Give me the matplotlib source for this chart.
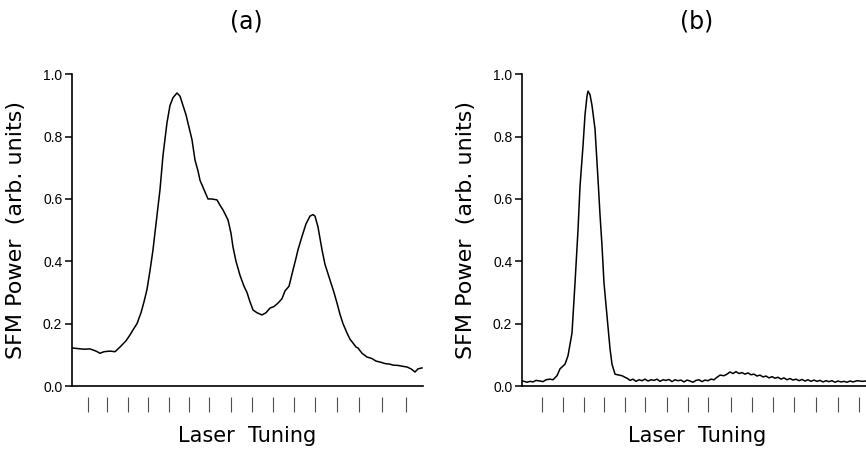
import matplotlib
matplotlib.use("Agg")
import matplotlib.pyplot as plt

# tuning axis in arbitrary units (0 .. 351), signal in arb. units
ta = [0, 6, 12, 18, 24, 28, 32, 38, 43, 48, 54, 58, 62, 65, 69, 72, 75, 78, 81, 84,
      88, 91, 95, 98, 101, 105, 108, 110, 114, 117, 120, 123, 126, 128, 132, 136, 140, 145, 148, 151,
      156, 159, 161, 164, 168, 172, 175, 178, 181, 185, 190, 194, 198, 202, 206, 210, 213, 217, 221, 224,
      226, 230, 234, 238, 241, 243, 246, 250, 253, 258, 262, 265, 268, 271, 275, 278, 281, 284, 286, 290,
      295, 300, 304, 308, 313, 318, 321, 326, 331, 335, 339, 343, 346, 350]
pa = [.122, .120, .118, .119, .112, .105, .110, .112, .110, .125, .145, .164, .185, .200, .235, .27, .31, .37, .437, .52,
      .63, .74, .845, .90, .925, .94, .93, .91, .87, .83, .79, .725, .69, .66, .63, .60, .60, .597, .58, .565,
      .533, .49, .446, .40, .355, .32, .30, .27, .244, .235, .228, .235, .25, .255, .266, .28, .305, .32, .372, .41,
      .437, .48, .52, .545, .55, .545, .51, .437, .39, .34, .30, .266, .23, .20, .17, .15, .138, .125, .122, .105,
      .093, .088, .08, .077, .072, .070, .067, .066, .063, .061, .055, .045, .055, .058]

tb = [0, 5, 8, 11, 14, 18, 21, 24, 28, 31, 35, 38, 43, 46, 50, 53, 56, 58, 61, 63,
      65, 66, 68, 70, 73, 76, 78, 80, 82, 85, 88, 90, 93, 97, 100, 103, 105, 108, 111, 114,
      117, 120, 123, 126, 129, 132, 135, 138, 141, 144, 147, 150, 153, 156, 159, 162, 165, 168, 171, 174,
      177, 180, 183, 186, 189, 192, 195, 198, 202, 205, 208, 211, 214, 217, 220, 223, 226, 229, 232, 235,
      238, 241, 244, 247, 250, 253, 256, 259, 262, 265, 268, 271, 274, 277, 280, 283, 286, 289, 292, 295,
      298, 301, 304, 307, 310, 313, 316, 319, 322, 325, 328, 331, 335, 340, 345, 351]
pb = [.017, .012, .015, .013, .018, .016, .014, .020, .022, .020, .033, .055, .07, .097, .17, .33, .50, .64, .77, .87,
      .93, .946, .935, .90, .825, .664, .55, .45, .33, .225, .12, .07, .038, .035, .033, .028, .025, .018, .022, .015,
      .02, .017, .022, .016, .02, .018, .022, .015, .02, .018, .021, .014, .02, .017, .019, .013, .019, .016, .012, .018,
      .02, .014, .019, .017, .022, .02, .028, .035, .033, .038, .045, .04, .046, .04, .043, .038, .042, .036, .038, .032,
      .035, .029, .032, .026, .03, .025, .028, .022, .026, .02, .024, .019, .022, .017, .021, .016, .02, .015, .019, .015,
      .018, .013, .017, .014, .017, .012, .016, .013, .015, .012, .016, .013, .017, .015, .016, .014]

# detached tick marks under the tuning axis
ticks_a = [16, 35, 56, 76, 97, 117, 137, 159, 180, 201, 222, 243, 265, 287, 310, 334]
ticks_b = [20, 41, 62, 82, 103, 123, 145, 166, 186, 209, 230, 251, 272, 294, 316, 337]
yticks = [0.0, 0.2, 0.4, 0.6, 0.8, 1.0]
panels = [("(a)", ta, pa, ticks_a), ("(b)", tb, pb, ticks_b)]

W, H = 866, 449
fig = plt.figure(figsize=(W/100, H/100), dpi=100)
lefts = [72, 522]
for (name, t, p, tk), left in zip(panels, lefts):
    ax = fig.add_axes([left/W, (H-386)/H, 351/W, (386-74.3)/H])
    ax.plot(t, p, color="k", lw=1.1)
    ax.set_xlim(0, 351); ax.set_ylim(0, 1.0)
    for s in ("top", "right"):
        ax.spines[s].set_visible(False)
    for s in ("left", "bottom"):
        ax.spines[s].set_linewidth(1.2)
    ax.set_xticks([])
    ax.set_yticks(yticks)
    ax.set_yticklabels([f"{v:.1f}" for v in yticks], family="Liberation Sans", fontsize=10)
    ax.tick_params(axis="y", direction="out", length=5, width=1.1, pad=2)
    ax.vlines(tk, -0.0353, -0.0834, transform=ax.get_xaxis_transform(),
              colors="0.3", lw=0.8, clip_on=False)
    ax.set_ylabel("SFM Power  (arb. units)", fontsize=16)
    ax.yaxis.set_label_coords(-46/351, 0.5)
    cx = left + 351/2
    fig.text(cx/W, 1 - 436/H, "Laser  Tuning", ha="center", va="center", fontsize=15)
    fig.text((cx - 1)/W, 1 - 21/H, name, ha="center", va="center", fontsize=17)

fig.savefig("out.png", dpi=100)
